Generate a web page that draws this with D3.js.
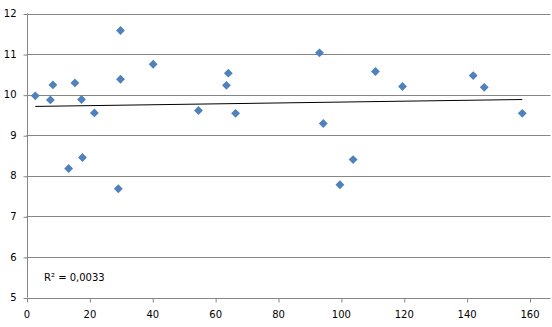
<!DOCTYPE html>
<html><head><meta charset="utf-8">
<script src="https://cdn.jsdelivr.net/npm/d3@7"></script>
<style>body{margin:0;background:#fff}svg{display:block}</style>
</head><body>
<script>
const xValues = [2.8, 7.6, 8.4, 15.4, 17.5, 21.6, 29.9, 29.9, 40.3, 13.4, 17.8, 29.2, 54.7, 64.2, 63.6, 66.5, 93.2, 94.4, 103.9, 99.7, 111.0, 119.6, 142.1, 145.6, 157.7];
const yValues = [9.97, 9.87, 10.24, 10.29, 9.88, 9.55, 11.58, 10.38, 10.75, 8.18, 8.45, 7.68, 9.61, 10.53, 10.23, 9.54, 11.03, 9.29, 8.40, 7.78, 10.57, 10.20, 10.47, 10.18, 9.54];
const trendX = [2.8, 157.7];
const trendY = [9.71, 9.88];
const xTicks = [0, 20, 40, 60, 80, 100, 120, 140, 160];
const yTicks = [5, 6, 7, 8, 9, 10, 11, 12];
const rLabel = "R² = 0,0033";

const W = 552, H = 327;
const svg = d3.select("body").append("svg").attr("width", W).attr("height", H);
const x = d3.scaleLinear().domain([0, 160]).range([26.5, 529.5]);
const y = d3.scaleLinear().domain([5, 12]).range([297.5, 13.5]);
const right = 550.5;
const grid = "#868686";
const font = "DejaVu Sans, Verdana, sans-serif";
const fmt = d => String(d);

// gridlines
svg.append("g").selectAll("line").data(yTicks.filter(d => d !== 5)).join("line")
  .attr("x1", x(0)).attr("x2", right)
  .attr("y1", d => Math.round(y(d)) + 0.5).attr("y2", d => Math.round(y(d)) + 0.5)
  .attr("stroke", grid).attr("stroke-width", 1);

// x axis
const xa = svg.append("g").attr("transform", `translate(0,${Math.round(y(5)) + 0.5})`)
  .call(d3.axisBottom(x).tickValues(xTicks).tickFormat(fmt).tickSize(4).tickPadding(8).tickSizeOuter(0));
xa.select(".domain").remove();
xa.append("line").attr("x1", x(0)).attr("x2", right).attr("stroke", grid);
xa.selectAll(".tick line").attr("stroke", grid).attr("transform", "translate(0.5,0)");
xa.selectAll("text").attr("fill", "#000").style("font-family", font).style("font-size", "10px");

// y axis
const ya = svg.append("g").attr("transform", `translate(${Math.round(x(0)) + 0.5},0)`)
  .call(d3.axisLeft(y).tickValues(yTicks).tickFormat(fmt).tickSize(4).tickPadding(7).tickSizeOuter(0));
ya.select(".domain").attr("stroke", grid).attr("d", `M0,${y(12)}V${y(5)}`);
ya.selectAll(".tick line").attr("stroke", grid).attr("transform", "translate(0,0.5)");
ya.selectAll("text").attr("fill", "#000").style("font-family", font).style("font-size", "10px");

// trendline
svg.append("line")
  .attr("x1", x(trendX[0])).attr("y1", y(trendY[0]))
  .attr("x2", x(trendX[1])).attr("y2", y(trendY[1]))
  .attr("stroke", "#000").attr("stroke-width", 1);

// markers
const pts = xValues.map((v, i) => [v, yValues[i]]);
svg.append("g").selectAll("path").data(pts).join("path")
  .attr("d", d3.symbol(d3.symbolDiamond2, 50))
  .attr("transform", d => `translate(${x(d[0])},${y(d[1])})`)
  .attr("fill", "#4f81bd");

// R^2 label
svg.append("text").attr("x", 44).attr("y", 281)
  .style("font-family", font).style("font-size", "10px").attr("fill", "#000")
  .text(rLabel);
</script>
</body></html>
